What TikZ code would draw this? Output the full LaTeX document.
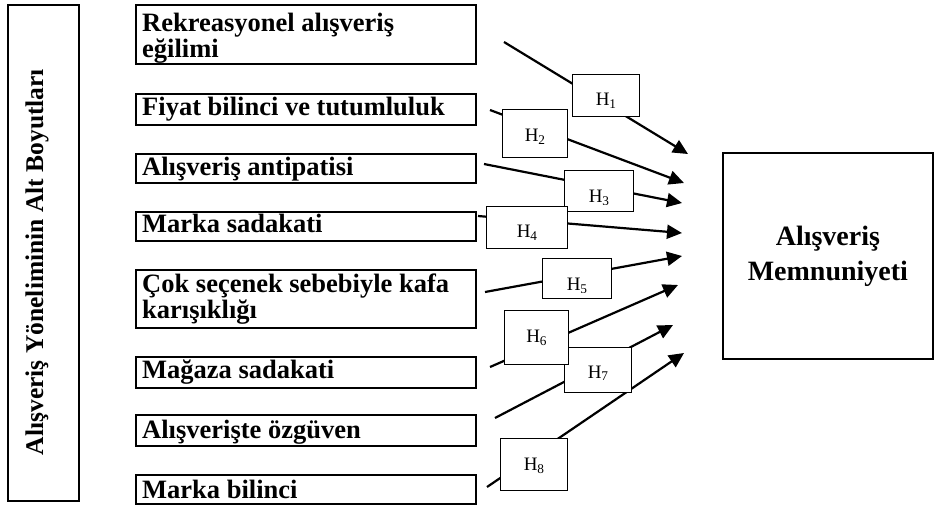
\documentclass[tikz,border=0pt]{standalone}
\usepackage{fontspec}
\setmainfont{Liberation Serif}
\usetikzlibrary{arrows.meta,calc}
\begin{document}
\begin{tikzpicture}[x=1pt,y=-1pt,
  frame/.style={draw, line width=1.8pt, inner sep=0pt},
  itembox/.style={frame, anchor=north west, minimum width=340pt},
  itemtext/.style={anchor=base west, inner sep=0pt, align=left, font=\fontsize{26.5}{24}\selectfont\bfseries},
  hbox/.style={draw, fill=white, line width=1.4pt, inner sep=0pt, anchor=north west},
  hlabel/.style={anchor=base, inner sep=0pt, font=\fontsize{19}{20}\selectfont},
  link/.style={line width=2.2pt, -{Triangle[length=15pt,width=14pt]}},
]
\useasboundingbox (0,0) rectangle (934,504);

% left dimension box
\node[frame, anchor=north west, minimum width=71pt, minimum height=496pt] (dim) at (7,4) {};
\node[rotate=90, anchor=base, inner sep=0pt, font=\fontsize{25.5}{26}\selectfont\bfseries] (dimt) at (43,262) {Alışveriş Yöneliminin Alt Boyutları};

% right outcome box
\node[frame, anchor=north west, minimum width=210pt, minimum height=206pt, align=center,
      font=\fontsize{28}{35}\selectfont\bfseries] (sat) at (722,152) {Alışveriş\\Memnuniyeti};

% item boxes
\node[itembox, minimum height=59pt] (b1) at (135,4) {};
\node[itemtext] (t1) at (142,57) {Rekreasyonel alışveriş\\eğilimi};
\node[itembox, minimum height=31pt] (b2) at (135,93) {};
\node[itemtext] (t2) at (142,115) {Fiyat bilinci ve tutumluluk};
\node[itembox, minimum height=29pt] (b3) at (135,153) {};
\node[itemtext] (t3) at (142,175) {Alışveriş antipatisi};
\node[itembox, minimum height=29pt] (b4) at (135,211) {};
\node[itemtext] (t4) at (142,232) {Marka sadakati};
\node[itembox, minimum height=58pt] (b5) at (135,269) {};
\node[itemtext] (t5) at (142,318) {Çok seçenek sebebiyle kafa\\karışıklığı};
\node[itembox, minimum height=31pt] (b6) at (135,356) {};
\node[itemtext] (t6) at (142,378) {Mağaza sadakati};
\node[itembox, minimum height=31pt] (b7) at (135,414) {};
\node[itemtext] (t7) at (142,438) {Alışverişte özgüven};
\node[itembox, minimum height=29pt] (b8) at (135,474) {};
\node[itemtext] (t8) at (142,498) {Marka bilinci};

% connector end points
\coordinate (s1) at (504,42);  \coordinate (e1) at (688,154);
\coordinate (s2) at (490,110); \coordinate (e2) at (684,183);
\coordinate (s3) at (484,164); \coordinate (e3) at (682,203);
\coordinate (s4) at (478,216); \coordinate (e4) at (682,233);
\coordinate (s5) at (485,292); \coordinate (e5) at (682,256);
\coordinate (s6) at (490,367); \coordinate (e6) at (678,285);
\coordinate (s7) at (495,418); \coordinate (e7) at (673,325);
\coordinate (s8) at (487,487); \coordinate (e8) at (684,353);
\foreach \i in {1,...,8} { \draw[link] (s\i) -- (e\i); }

% hypothesis boxes
\node[hbox, minimum width=67pt, minimum height=42pt] (h1) at (572,74) {};
\node[hlabel] (l1) at ($(h1.center)+(0,10)$) {H\textsubscript{1}};
\node[hbox, minimum width=65pt, minimum height=48pt] (h2) at (502,109) {};
\node[hlabel] (l2) at ($(h2.center)+(0,8)$) {H\textsubscript{2}};
\node[hbox, minimum width=69pt, minimum height=41pt] (h3) at (564,170) {};
\begin{scope}
\clip (564,170) rectangle (633,204);
\node[hlabel] (l3) at ($(h3.center)+(0,11)$) {H\textsubscript{3}};
\end{scope}
\node[hbox, minimum width=81pt, minimum height=42pt] (h4) at (486,206) {};
\node[hlabel] (l4) at ($(h4.center)+(0,10)$) {H\textsubscript{4}};
\node[hbox, minimum width=69pt, minimum height=40pt] (h5) at (542,258) {};
\begin{scope}
\clip (542,258) rectangle (611,292);
\node[hlabel] (l5) at ($(h5.center)+(0,12)$) {H\textsubscript{5}};
\end{scope}
\node[hbox, minimum width=67pt, minimum height=45pt] (h7) at (564,347) {};
\node[hlabel] (l7) at ($(h7.center)+(0,8)$) {H\textsubscript{7}};
\node[hbox, minimum width=64pt, minimum height=54pt] (h6) at (504,310) {};
\node[hlabel] (l6) at ($(h6.center)+(0,5)$) {H\textsubscript{6}};
\node[hbox, minimum width=67pt, minimum height=52pt] (h8) at (500,438) {};
\node[hlabel] (l8) at ($(h8.center)+(0,6)$) {H\textsubscript{8}};
\end{tikzpicture}
\end{document}
